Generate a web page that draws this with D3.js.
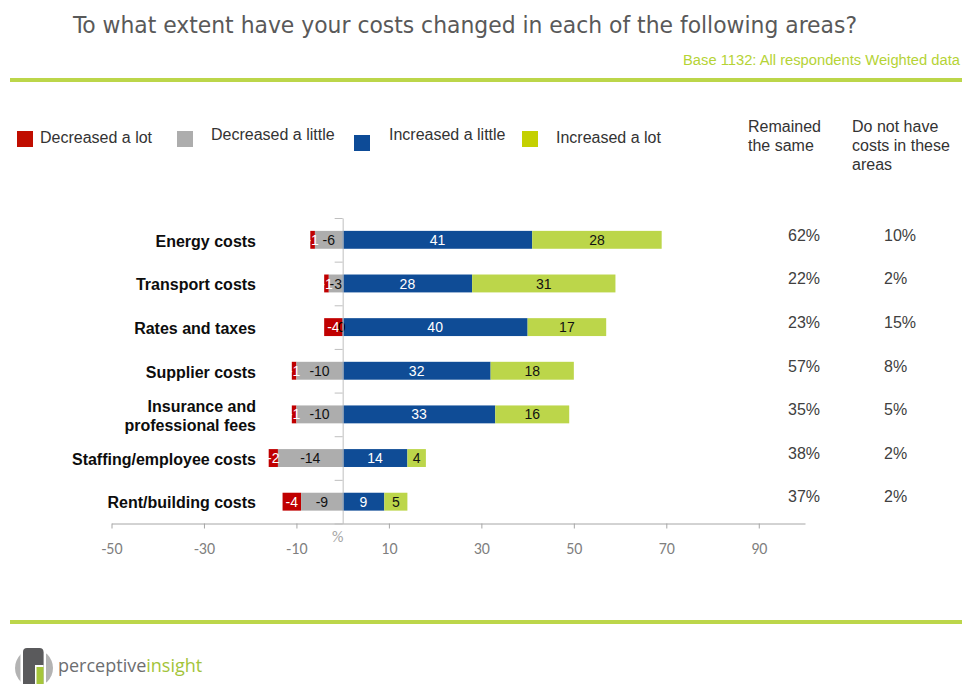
<!DOCTYPE html>
<html>
<head>
<meta charset="utf-8">
<script src="https://cdn.jsdelivr.net/npm/d3@7/dist/d3.min.js"></script>
<style>
  html, body { margin: 0; padding: 0; background: #fff; }
  svg { display: block; font-family: "Liberation Sans", Arial, sans-serif; }
</style>
</head>
<body>
<svg id="chart" width="962" height="684"></svg>
<script>
// ---- data ----
const categories = [
  "Energy costs",
  "Transport costs",
  "Rates and taxes",
  "Supplier costs",
  "Insurance and professional fees",
  "Staffing/employee costs",
  "Rent/building costs"
];
const seriesNames = ["Decreased a lot", "Decreased a little", "Increased a little", "Increased a lot"];
const decreasedALot    = [-1, -1, -4, -1, -1, -2, -4];
const decreasedALittle = [-6, -3,  0, -10, -10, -14, -9];
const increasedALittle = [41, 28, 40, 32, 33, 14, 9];
const increasedALot    = [28, 31, 17, 18, 16, 4, 5];
const remainedSame     = [62, 22, 23, 57, 35, 38, 37];
const noCosts          = [10, 2, 15, 8, 5, 2, 2];
const xTickValues      = [-50, -30, -10, 10, 30, 50, 70, 90];

// ---- styling ----
const barColors    = ["#c00000", "#adadad", "#0f4c96", "#bcd64a"];
const legendColors = ["#c00d00", "#adadad", "#0d4b97", "#c4d000"];
const labelColors  = ["#ffffff", "#111111", "#ffffff", "#111111"];
const accent = "#bcd64a";

const svg = d3.select("#chart");

// header
svg.append("text")
  .attr("x", 73).attr("y", 33)
  .attr("font-family", "'DejaVu Sans Condensed', 'DejaVu Sans', sans-serif")
  .attr("font-size", 23)
  .attr("fill", "#595959")
  .attr("textLength", 784)
  .attr("lengthAdjust", "spacingAndGlyphs")
  .text("To what extent have your costs changed in each of the following areas?");

svg.append("text")
  .attr("x", 960).attr("y", 65)
  .attr("text-anchor", "end")
  .attr("font-size", 14)
  .attr("fill", "#b5d335")
  .attr("textLength", 277)
  .attr("lengthAdjust", "spacingAndGlyphs")
  .text("Base 1132: All respondents Weighted data");

svg.append("rect").attr("x", 10).attr("y", 78).attr("width", 952).attr("height", 4).attr("fill", accent);
svg.append("rect").attr("x", 10).attr("y", 620).attr("width", 952).attr("height", 4).attr("fill", accent);

// ---- scales ----
const x = d3.scaleLinear().domain([-50, 100]).range([111.5, 805]);
const yIdx = d3.scaleLinear().domain([0, categories.length]).range([218, 523.5]);
const y = d3.scaleBand().domain(categories).range([218, 523.5]).paddingInner(0.59).paddingOuter(0.295);

// stacked segments: both directions stack outward from zero
const segments = [];
categories.forEach((c, i) => {
  const vals = [decreasedALot[i], decreasedALittle[i], increasedALittle[i], increasedALot[i]];
  const dLittle = [0, vals[1]];
  const dLot = [vals[1], vals[1] + vals[0]];
  const iLittle = [0, vals[2]];
  const iLot = [vals[2], vals[2] + vals[3]];
  [[0, dLot], [1, dLittle], [2, iLittle], [3, iLot]].forEach(([s, ext]) => {
    segments.push({ cat: c, s, v: vals[s], x0: Math.min(ext[0], ext[1]), x1: Math.max(ext[0], ext[1]) });
  });
});

const gBars = svg.append("g");
gBars.selectAll("rect").data(segments).join("rect")
  .attr("x", d => x(d.x0))
  .attr("width", d => x(d.x1) - x(d.x0))
  .attr("y", d => y(d.cat))
  .attr("height", y.bandwidth())
  .attr("fill", d => barColors[d.s]);

// x axis
const xAxis = svg.append("g")
  .attr("transform", `translate(0, ${yIdx(categories.length)})`)
  .call(d3.axisBottom(x).tickValues(xTickValues).tickFormat(d => String(d))
    .tickSize(5).tickSizeOuter(0).tickPadding(14));
xAxis.select(".domain").attr("stroke", "#a6a6a6");
xAxis.selectAll(".tick line").attr("stroke", "#a6a6a6");
xAxis.selectAll(".tick text")
  .attr("fill", "#7f7f7f")
  .attr("font-family", "Carlito, Calibri, 'Open Sans', sans-serif")
  .attr("font-size", 16);

svg.append("text")
  .attr("x", x(0) - 5).attr("y", 542)
  .attr("text-anchor", "middle")
  .attr("font-family", "Carlito, Calibri, 'Open Sans', sans-serif")
  .attr("font-size", 16)
  .attr("fill", "#a6a6a6")
  .text("%");

// vertical zero axis with category separators
const yAxis = svg.append("g")
  .attr("transform", `translate(${x(0)}, 0)`)
  .call(d3.axisLeft(yIdx).tickValues(d3.range(categories.length + 1)).tickFormat("").tickSize(8).tickSizeOuter(0));
yAxis.select(".domain").attr("stroke", "#bfbfbf");
yAxis.selectAll(".tick line").attr("stroke", "#bfbfbf");

// segment value labels; zero-width segments are drawn last so they sit on top
const labelOrder = segments.slice().sort((a, b) => (a.v === 0) - (b.v === 0));
gBars.selectAll("text").data(labelOrder).join("text")
  .attr("x", d => x((d.x0 + d.x1) / 2) + (d.v === 0 ? -1 : 0))
  .attr("y", d => y(d.cat) + y.bandwidth() / 2)
  .attr("dy", "0.36em")
  .attr("text-anchor", "middle")
  .attr("font-size", 14)
  .attr("fill", d => d.v === 0 ? "#000" : labelColors[d.s])
  .text(d => d.v);

// category labels
const catG = svg.append("g");
categories.forEach(c => {
  const lines = c === "Insurance and professional fees" ? ["Insurance and", "professional fees"] : [c];
  const cy = y(c) + y.bandwidth() / 2 + 1;
  const t = catG.append("text")
    .attr("x", 256)
    .attr("text-anchor", "end")
    .attr("font-size", 16)
    .attr("font-weight", "bold")
    .attr("fill", "#0d0d0d");
  lines.forEach((ln, k) => {
    t.append("tspan")
      .attr("x", 256)
      .attr("y", cy + (k - (lines.length - 1) / 2) * 19)
      .attr("dy", "0.36em")
      .text(ln);
  });
});

// legend
const legendLayout = [
  { sx: 17, sy: 131, tx: 40, ty: 143 },
  { sx: 177, sy: 131, tx: 211, ty: 140 },
  { sx: 354, sy: 135, tx: 389, ty: 140 },
  { sx: 522, sy: 131, tx: 556, ty: 143 }
];
const leg = svg.append("g");
seriesNames.forEach((n, i) => {
  const L = legendLayout[i];
  leg.append("rect").attr("x", L.sx).attr("y", L.sy).attr("width", 16).attr("height", 16).attr("fill", legendColors[i]);
  leg.append("text").attr("x", L.tx).attr("y", L.ty).attr("font-size", 16).attr("fill", "#333").text(n);
});

// side columns
const colG = svg.append("g").attr("font-size", 16).attr("fill", "#333");
["Remained", "the same"].forEach((ln, k) =>
  colG.append("text").attr("x", 748).attr("y", 132 + k * 19).text(ln));
["Do not have", "costs in these", "areas"].forEach((ln, k) =>
  colG.append("text").attr("x", 852).attr("y", 132 + k * 19).text(ln));

categories.forEach((c, i) => {
  const cy = y(c) + y.bandwidth() / 2 - 5;
  colG.append("text").attr("x", 788).attr("y", cy).attr("dy", "0.36em").attr("fill", "#404040").text(remainedSame[i] + "%");
  colG.append("text").attr("x", 884).attr("y", cy).attr("dy", "0.36em").attr("fill", "#404040").text(noCosts[i] + "%");
});

// brand mark
const logo = svg.append("g");
logo.append("circle").attr("cx", 34).attr("cy", 668).attr("r", 19).attr("fill", "#b3b3b3");
logo.append("rect").attr("x", 20.5).attr("y", 645).attr("width", 2.5).attr("height", 42).attr("fill", "#fff");
logo.append("rect").attr("x", 43.5).attr("y", 645).attr("width", 2.5).attr("height", 42).attr("fill", "#fff");
logo.append("rect").attr("x", 23).attr("y", 648).attr("width", 20.5).attr("height", 40).attr("rx", 4).attr("fill", "#5a5a5c");
logo.append("rect").attr("x", 35).attr("y", 665).attr("width", 8.5).attr("height", 23).attr("fill", "#fff");
logo.append("rect").attr("x", 36.5).attr("y", 667).attr("width", 7).attr("height", 21).attr("fill", "#a6c63b");
const brand = svg.append("text").attr("x", 58).attr("y", 672)
  .attr("font-family", "'Open Sans', sans-serif").attr("font-size", 18);
brand.append("tspan").attr("fill", "#6d6e70").text("perceptive");
brand.append("tspan").attr("fill", "#a3c43a").text("insight");
</script>
</body>
</html>
